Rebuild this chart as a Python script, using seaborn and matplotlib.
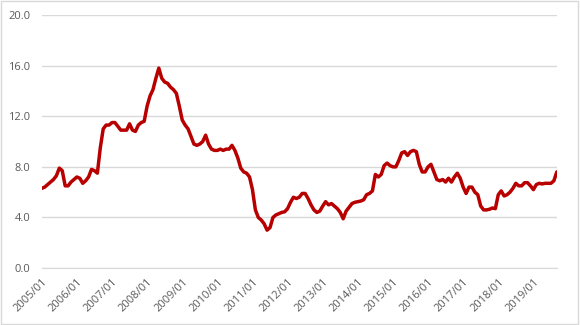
import numpy as np
import pandas as pd
import matplotlib
matplotlib.use("Agg")
import matplotlib.pyplot as plt
import seaborn as sns

# monthly values, 2005/01 .. 2019/09
y2005 = [6.3, 6.4, 6.6, 6.8, 7.0, 7.3, 7.9, 7.7, 6.5, 6.5, 6.8, 7.0]
y2006 = [7.2, 7.1, 6.7, 6.9, 7.2, 7.8, 7.7, 7.5, 9.5, 11.0, 11.3, 11.3]
y2007 = [11.5, 11.5, 11.2, 10.9, 10.9, 10.9, 11.4, 10.9, 10.8, 11.3, 11.5, 11.6]
y2008 = [12.8, 13.6, 14.1, 15.0, 15.8, 15.0, 14.7, 14.6, 14.3, 14.1, 13.8, 12.8]
y2009 = [11.7, 11.3, 11.0, 10.4, 9.8, 9.7, 9.8, 10.0, 10.5, 9.8, 9.4, 9.3]
y2010 = [9.3, 9.4, 9.3, 9.4, 9.4, 9.7, 9.3, 8.7, 7.9, 7.6, 7.5, 7.2]
y2011 = [6.2, 4.6, 4.0, 3.8, 3.5, 3.0, 3.2, 4.0, 4.2, 4.3, 4.4, 4.45]
y2012 = [4.7, 5.2, 5.6, 5.5, 5.6, 5.9, 5.9, 5.5, 5.0, 4.6, 4.4, 4.5]
y2013 = [4.9, 5.25, 5.0, 5.1, 4.9, 4.7, 4.4, 3.9, 4.5, 4.8, 5.1, 5.2]
y2014 = [5.25, 5.3, 5.4, 5.8, 5.9, 6.1, 7.4, 7.2, 7.4, 8.1, 8.3, 8.1]
y2015 = [8.0, 8.0, 8.5, 9.1, 9.2, 8.9, 9.2, 9.3, 9.2, 8.2, 7.6, 7.6]
y2016 = [8.0, 8.2, 7.6, 7.0, 6.9, 7.0, 6.8, 7.1, 6.8, 7.2, 7.5, 7.1]
y2017 = [6.4, 5.9, 6.4, 6.4, 6.0, 5.8, 4.9, 4.6, 4.6, 4.65, 4.75, 4.7]
y2018 = [5.8, 6.1, 5.7, 5.8, 6.0, 6.3, 6.7, 6.5, 6.5, 6.75, 6.75, 6.5]
y2019 = [6.2, 6.6, 6.7, 6.65, 6.7, 6.7, 6.7, 6.9, 7.6]

values = (y2005 + y2006 + y2007 + y2008 + y2009 + y2010 + y2011 + y2012
          + y2013 + y2014 + y2015 + y2016 + y2017 + y2018 + y2019)
years = list(range(2005, 2020))
tick_labels = [f"{yr}/01" for yr in years]

df = pd.DataFrame({"idx": np.arange(len(values)), "value": values})

sns.set_style("white")
plt.rcParams["font.family"] = ["Open Sans", "DejaVu Sans"]

fig = plt.figure(figsize=(5.8, 3.25), dpi=100)
ax = fig.add_axes([0.072, 0.175, 0.888, 0.779])

sns.lineplot(data=df, x="idx", y="value", ax=ax, color="#B80000", linewidth=2.5)

ax.set_xlim(0, len(values) - 1)
ax.set_ylim(0, 20)
ax.set_yticks(np.arange(0, 21, 4))
ax.set_yticklabels([f"{v:.1f}" for v in np.arange(0, 21, 4)])
ax.set_xticks(np.arange(0, len(values), 12))
ax.set_xticklabels(tick_labels, rotation=45, ha="right", rotation_mode="anchor")
ax.tick_params(axis="both", length=0, labelsize=8, colors="#595959")
ax.tick_params(axis="x", pad=6)
ax.tick_params(axis="y", pad=8)
ax.grid(axis="y", color="#d9d9d9", linewidth=1)
ax.set_axisbelow(True)
ax.set_xlabel("")
ax.set_ylabel("")
for side in ["top", "right", "left"]:
    ax.spines[side].set_visible(False)
ax.spines["bottom"].set_color("#d9d9d9")

# outer chart border
fig.patches.append(plt.Rectangle((0.002, 0.003), 0.995, 0.994, transform=fig.transFigure,
                                 fill=False, edgecolor="#d9d9d9", linewidth=1))

fig.savefig("out.png", dpi=100)
